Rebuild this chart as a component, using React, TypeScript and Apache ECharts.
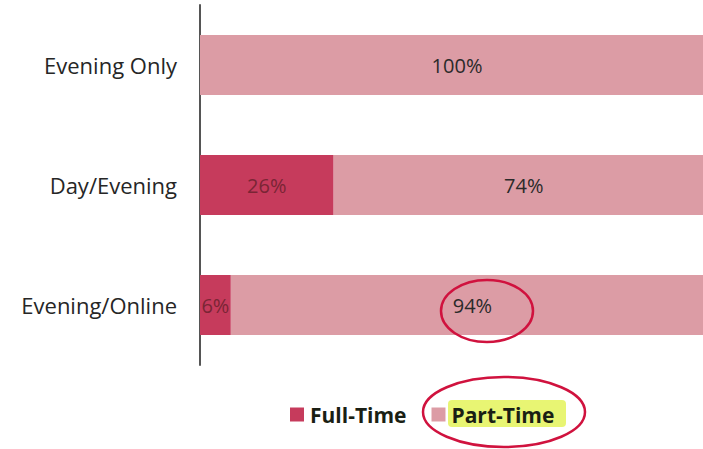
import React, { useEffect, useRef } from "react";
import * as echarts from "echarts";

const categories = ["Evening Only", "Day/Evening", "Evening/Online"];
const fullTime = [0, 26, 6];
const partTime = [100, 74, 94];

export default function App() {
  const ref = useRef<HTMLDivElement>(null);
  useEffect(() => {
    const chart = echarts.init(ref.current!, null, { renderer: "svg" });
    const font = "'Open Sans', Lato, sans-serif";
    chart.setOption({
      animation: false,
      backgroundColor: "#ffffff",
      grid: { left: 200, right: 0, top: 5, height: 360 },
      xAxis: { type: "value", min: 0, max: 100, show: false },
      yAxis: {
        type: "category",
        data: categories,
        inverse: true,
        axisLine: { show: true, lineStyle: { color: "#555", width: 2 } },
        axisTick: { show: false },
        axisLabel: { fontSize: 22, color: "#262626", margin: 23, fontFamily: font },
      },
      legend: {
        left: 290,
        top: 404,
        padding: 0,
        itemWidth: 14,
        itemHeight: 14,
        itemGap: 25,
        icon: "rect",
        z: 4,
        textStyle: { fontSize: 21, fontWeight: "bold", color: "#1a1f14", fontFamily: font, padding: [0, 0, 0, 1] },
        data: ["Full-Time", "Part-Time"],
      },
      graphic: [
        {
          type: "rect",
          z: 1,
          shape: { x: 448, y: 400, width: 118, height: 27, r: 4 },
          style: { fill: "#e4f35a", opacity: 0.85 },
        },
        {
          type: "ellipse",
          z: 10,
          shape: { cx: 487, cy: 311, rx: 46, ry: 31 },
          style: { fill: "none", stroke: "#d0123e", lineWidth: 2.5 },
        },
        {
          type: "ellipse",
          z: 10,
          shape: { cx: 504, cy: 412, rx: 81, ry: 35 },
          style: { fill: "none", stroke: "#d0123e", lineWidth: 2.5 },
        },
      ],
      series: [
        {
          name: "Full-Time",
          type: "bar",
          stack: "total",
          barWidth: 60,
          itemStyle: { color: "#c63b5c" },
          label: {
            show: true,
            formatter: (p: any) => (p.value > 0 ? p.value + "%" : ""),
            fontSize: 20,
            color: "#7a2535",
            fontFamily: font,
          },
          data: fullTime,
        },
        {
          name: "Part-Time",
          type: "bar",
          stack: "total",
          barWidth: 60,
          itemStyle: { color: "#dc9ca5" },
          label: {
            show: true,
            formatter: (p: any) => p.value + "%",
            fontSize: 20,
            color: "#2a2a2a",
            fontFamily: font,
          },
          data: partTime,
        },
      ],
    });
    return () => chart.dispose();
  }, []);
  return (
    <div style={{ position: "fixed", left: 0, top: 0, width: 703, height: 449, overflow: "hidden", background: "#fff" }}>
      <div ref={ref} style={{ width: 714, height: 449 }} />
    </div>
  );
}
